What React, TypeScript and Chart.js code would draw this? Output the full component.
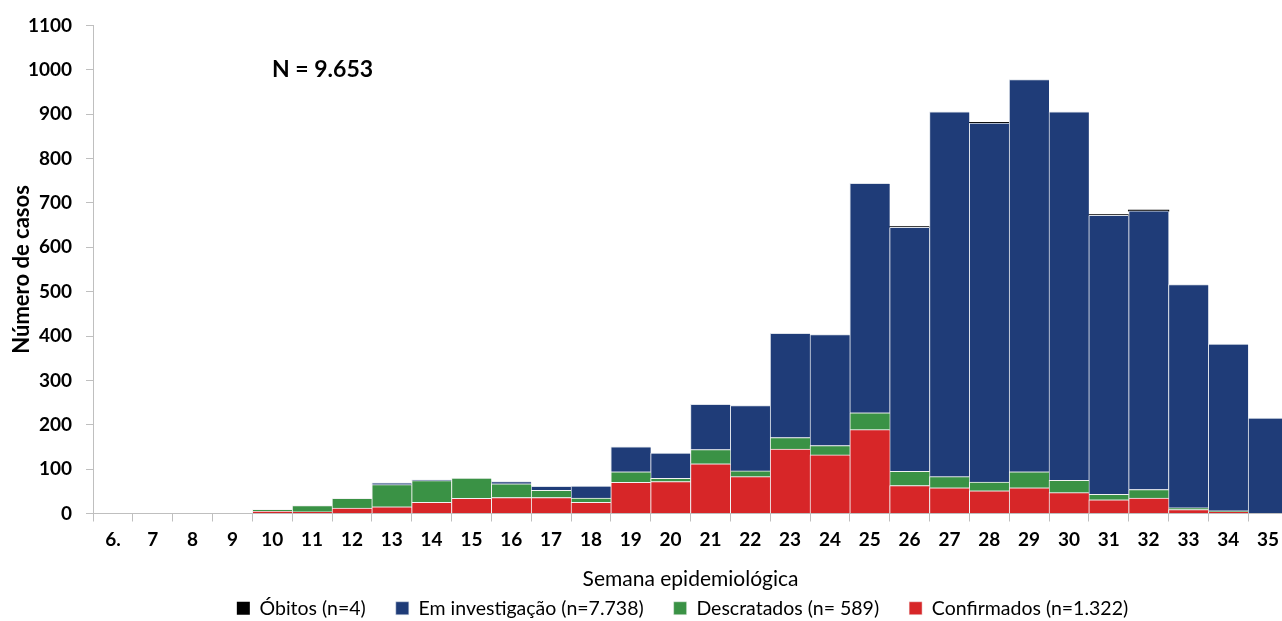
import React, { useEffect, useRef } from "react";
import { Chart, registerables } from "chart.js";

Chart.register(...registerables);

const weeks = ["6.", "7", "8", "9", "10", "11", "12", "13", "14", "15", "16", "17", "18", "19", "20", "21", "22", "23", "24", "25", "26", "27", "28", "29", "30", "31", "32", "33", "34", "35"];
const confirmados = [0, 0, 0, 0, 5, 4, 12, 15, 25, 34, 36, 36, 25, 70, 72, 112, 83, 145, 132, 189, 63, 58, 51, 58, 47, 31, 35, 9, 4, 0];
const descartados = [0, 0, 0, 0, 4, 14, 22, 50, 49, 46, 31, 16, 10, 24, 7, 32, 13, 26, 21, 38, 32, 25, 20, 36, 28, 12, 19, 4, 2, 0];
const investigacao = [0, 0, 0, 0, 0, 0, 0, 4, 2, 0, 5, 9, 27, 56, 57, 102, 147, 235, 250, 517, 550, 822, 809, 884, 830, 629, 628, 503, 376, 215];
const obitos = [0, 0, 0, 0, 0, 0, 0, 0, 0, 0, 0, 0, 0, 0, 0, 0, 0, 0, 0, 0, 1, 0, 1, 0, 0, 1, 1, 0, 0, 0];

const legendLabels = ["Confirmados (n=1.322)", "Descratados (n= 589)", "Em investigação (n=7.738)", "Óbitos (n=4)"];
const annotationText = "N = 9.653";

const FONT = "Lato, 'Open Sans', sans-serif";

export default function App() {
  const ref = useRef<HTMLCanvasElement | null>(null);

  useEffect(() => {
    if (!ref.current) return;
    const barBorder = { top: 1, left: 1, right: 0, bottom: 0 };
    const noteplugin = {
      id: "note",
      afterDraw(chart: any) {
        const { ctx, chartArea, scales } = chart;
        ctx.save();
        ctx.font = `bold 23px ${FONT}`;
        ctx.fillStyle = "#000";
        ctx.textBaseline = "middle";
        ctx.textAlign = "left";
        ctx.fillText(annotationText, chartArea.left + 179, scales.y.getPixelForValue(1000));
        ctx.restore();
      },
    };
    const chart = new Chart(ref.current, {
      type: "bar",
      data: {
        labels: weeks,
        datasets: [
          { label: legendLabels[0], data: confirmados, backgroundColor: "#d72628", borderColor: "#f2f2f2", borderWidth: barBorder },
          { label: legendLabels[1], data: descartados, backgroundColor: "#3a9245", borderColor: "#f2f2f2", borderWidth: barBorder },
          { label: legendLabels[2], data: investigacao, backgroundColor: "#1f3c78", borderColor: "#dde2ea", borderWidth: barBorder },
          {
            label: legendLabels[3],
            data: obitos,
            backgroundColor: "#000000",
            borderWidth: 0,
            inflateAmount: (c: any) => (c.raw ? 0.7 : 0),
          },
        ],
      },
      options: {
        responsive: false,
        animation: false,
        layout: { padding: { top: 16, left: 0, right: 0, bottom: 0 } },
        datasets: { bar: { categoryPercentage: 1, barPercentage: 1 } },
        plugins: {
          tooltip: { enabled: false },
          legend: {
            position: "bottom",
            reverse: true,
            labels: {
              boxWidth: 13,
              boxHeight: 13,
              padding: 30,
              color: "#000",
              font: { family: FONT, size: 19.5 },
            },
          },
        },
        scales: {
          x: {
            stacked: true,
            grid: { offset: true, drawOnChartArea: false, drawTicks: true, tickLength: 8, color: "#bfbfbf" },
            border: { display: true, color: "#bfbfbf" },
            ticks: { color: "#000", font: { family: FONT, size: 19, weight: "bold" }, padding: 7, maxRotation: 0, autoSkip: false },
            title: { display: true, text: "Semana epidemiológica", color: "#000", font: { family: FONT, size: 21 }, padding: { top: 0, bottom: -23 } },
            afterFit(s: any) { s.height = 55; },
          },
          y: {
            stacked: true,
            min: 0,
            max: 1100,
            grid: { drawOnChartArea: false, drawTicks: true, tickLength: 7, color: "#bfbfbf" },
            border: { display: true, color: "#bfbfbf" },
            ticks: { stepSize: 100, color: "#000", font: { family: FONT, size: 19, weight: "bold" }, padding: 14, callback: (v: any) => String(v) },
            title: { display: true, text: "Número de casos", color: "#000", font: { family: FONT, size: 22, weight: "bold" }, padding: { top: 9, bottom: 0 } },
            afterFit(s: any) { s.width = 93; },
          },
          y2: {
            position: "right",
            display: true,
            grid: { display: false, drawTicks: false },
            border: { display: false },
            ticks: { display: false },
            afterFit(s: any) { s.width = 77; },
          },
        },
      },
      plugins: [noteplugin],
    });
    return () => chart.destroy();
  }, []);

  return (
    <div style={{ position: "fixed", left: 0, top: 0, width: 1282, height: 621, overflow: "hidden", background: "#fff" }}>
      <canvas ref={ref} width={1365} height={628} style={{ width: 1365, height: 628, display: "block" }} />
    </div>
  );
}
